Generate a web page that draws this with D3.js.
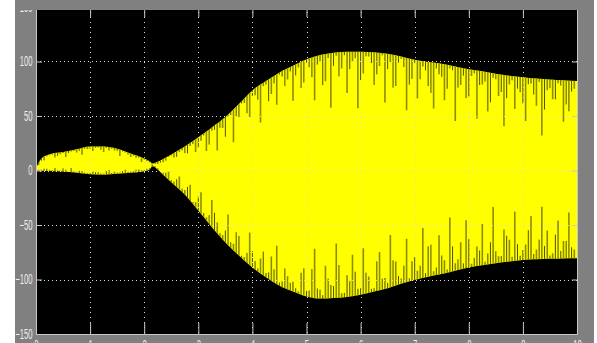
<!DOCTYPE html>
<html>
<head>
<meta charset="utf-8">
<script src="https://cdn.jsdelivr.net/npm/d3@7"></script>
<style>
  html, body { margin: 0; padding: 0; background: #ffffff; }
  svg { display: block; }
</style>
</head>
<body>
<svg id="chart" width="597" height="343"></svg>
<script>
// Axis ticks
const xTicks = [0, 1, 2, 3, 4, 5, 6, 7, 8, 9, 10];
const yTicks = [-150, -100, -50, 0, 50, 100, 150];

// Outer envelope of the oscillating trace (time in s, value)
const envT  = [0, 0.1, 0.25, 0.5, 0.75, 1, 1.25, 1.5, 1.75, 2, 2.1, 2.15, 2.25, 2.35, 2.5,
               2.75, 3, 3.25, 3.5, 3.75, 4, 4.25, 4.5, 4.75, 5, 5.25, 5.5, 5.75, 6, 6.25,
               6.5, 6.75, 7, 7.25, 7.5, 7.75, 8, 8.25, 8.5, 8.75, 9, 9.25, 9.5, 9.75, 10];
const envHi = [2, 11, 15, 17, 19.5, 22, 22, 20, 15.5, 11, 8.5, 6.5, 8, 10.5, 14.7,
               22, 30.6, 39.5, 49, 61, 73.5, 82, 90, 96, 102, 106, 108, 109, 109, 108.5,
               107, 104.5, 101.5, 99.5, 98, 95.5, 93, 91, 88.7, 87, 85.6, 84.5, 83.5, 82.7, 82];
const envLo = [0, -0.3, -0.5, -1, -2, -3.4, -3.8, -3, -2, -0.6, 1, 4, 1, -4, -10.7,
               -22, -36.8, -52, -66, -78, -89, -98, -105.7, -111, -115.5, -117.5, -117, -116, -114, -111,
               -108, -104, -100.5, -97.5, -95, -92, -89, -87, -85, -83.5, -82, -81.5, -81, -80.7, -80.5];

// Per-cycle maxima / minima of the trace, sampled every 0.1 s from t = 0.05 s
const cycleStart = 0.05, cycleStep = 0.1;
const peakHi = [5, 9.5, 14, 12, 14.8, 12.5, 17.5, 16.5, 14.5, 19.7,
                18, 21, 17, 18.3, 18.4, 13.3, 16.5, 12.5, 11.7, 7.9,
                8.5, 5.5, 6, 7.5, 12.3, 12, 17, 16, 22.4, 17,
                27.4, 18, 36.5, 18.3, 39, 49.4, 26, 49, 62, 49,
                69, 44, 79, 70.2, 60.4, 86.2, 83.6, 64, 94.4, 80.8,
                94.8, 64.4, 100, 81.8, 57.6, 105.2, 93.6, 71, 100, 57,
                88.9, 104.7, 78.5, 95.9, 62.3, 99.5, 77.5, 102.5, 55.3, 84.1,
                66.1, 95.3, 77.5, 56.9, 88.3, 64.5, 93.5, 45.5, 78.5, 66.5,
                86.6, 47.8, 79, 54.1, 85.2, 68.4, 40.7, 79, 56.4, 71.9,
                45.4, 79.9, 59.5, 32.1, 73.7, 65.3, 80, 44.7, 54.4, 75.1];
const peakLo = [0.8, 1.6, 0.5, 2.3, 0.1, 0.8, 2.4, -1, -0.6, -2.2,
                -0.6, -1.7, -2.8, 0.5, -1.2, -1.8, 0.6, -1, 0.6, 0.2,
                1.5, 5, 2, -2, -0.5, -10, -5.5, -18, -13, -29,
                -20, -43, -27, -47.6, -59.2, -40.4, -67.2, -60, -79.4, -56.8,
                -83, -80.8, -94, -79, -69, -101.8, -97, -102, -110.8, -89.6,
                -110, -71.8, -109.5, -87.3, -105.1, -66.9, -112.5, -96, -77.2, -108.4,
                -71.4, -97.2, -108, -74.8, -98.6, -59.2, -83.6, -99, -62.6, -83.2,
                -91.9, -52.7, -69.5, -92.5, -59.5, -82.4, -43.2, -85, -65.8, -45.6,
                -85.6, -69.8, -49, -76.2, -33.4, -78.7, -54.1, -63.5, -37.9, -78.3,
                -67.9, -41.7, -72.5, -33.3, -55.1, -76, -45.8, -64.7, -38.6, -72.5];

// Intermediate maxima / minima, sampled every 0.1 s from t = 0 s
const midStart = 0, midStep = 0.1;
const midHi = [1, 9, 13, 14.5, 13.4, 16, 16, 18, 18, 20,
               20, 21, 19, 20.7, 19.9, 18, 17.5, 14.5, 13.6, 11.8,
               10, 7.5, 6, 7.2, 9, 13.7, 12.5, 18.5, 15.7, 24.2,
               20.6, 32.2, 23.8, 37.4, 39.2, 31, 50.8, 49.6, 61.5, 52.5,
               68.5, 65, 77.4, 63.6, 79.8, 88, 77.4, 90.8, 87.2, 75.6,
               99, 85.6, 97.2, 78.4, 103.2, 96, 86.4, 105.8, 93, 103,
               83, 104.8, 98.6, 88.2, 105.6, 93, 76, 99, 94.9, 78.7,
               98.5, 83.7, 91.9, 71.2, 93.6, 86, 75, 92, 76, 87,
               68, 89.2, 78.4, 81.5, 62.6, 83.7, 72, 66.3, 82.7, 75.1,
               61.6, 79.1, 69.7, 81.3, 55.9, 75.5, 65.2, 77.9, 60.6, 72.3];
const midLo = [1, 0.7, 1.6, 0.4, 0.2, 2, -0.4, -0.8, -0.3, -1.9,
               -2.4, -1.6, -2.7, -0.6, -2.3, -2, -0.6, -1.2, -0.7, 0.9,
               0.4, 2, 4, -0.5, -2, -8.7, -8, -16.7, -15, -29,
               -23.8, -39, -41, -38.8, -57.4, -55, -65.8, -56.6, -78.2, -75.6,
               -74, -89.8, -74.4, -93.5, -90.6, -102.7, -89.8, -103, -108, -93.8,
               -110.5, -90.4, -108.2, -114.4, -99.2, -106, -86.8, -112.3, -101.6, -92.8,
               -108, -93.8, -108.6, -83.4, -99.2, -103, -82.4, -96.8, -87.3, -98.9,
               -79.5, -87.3, -94.1, -68, -89, -78, -90.8, -69.6, -81.4, -85.2,
               -63, -80.2, -73.4, -83.6, -65.8, -74, -78.4, -59.8, -79.2, -67.6,
               -73, -54.8, -76.6, -63.4, -69.2, -78, -58.9, -73.8, -64.6, -70.5];

const W = 597, H = 343;
const plotL = 36, plotR = 577, plotT = 7, plotB = 334;

const svg = d3.select("#chart");
const x = d3.scaleLinear().domain([0, 10]).range([plotL, plotR]);
const y = d3.scaleLinear().domain([-150, 150]).range([plotB, plotT]);

// Window frame
svg.append("rect").attr("width", W).attr("height", H).attr("fill", "#808080");
svg.append("rect").attr("width", 15).attr("height", H).attr("fill", "#ffffff");
svg.append("rect").attr("x", 594).attr("width", W - 594).attr("height", H).attr("fill", "#ffffff");

// Plot area
svg.append("rect")
  .attr("x", plotL).attr("y", plotT)
  .attr("width", plotR - plotL).attr("height", plotB - plotT)
  .attr("fill", "#000000");

const defs = svg.append("defs");
defs.append("clipPath").attr("id", "plotClip")
  .append("rect").attr("x", plotL).attr("y", plotT)
  .attr("width", plotR - plotL).attr("height", plotB - plotT);

const env = envT.map((t, i) => ({ t, hi: envHi[i], lo: envLo[i] }));
const band = d3.area()
  .x(d => x(d.t))
  .y0(d => y(d.lo))
  .y1(d => y(d.hi))
  .curve(d3.curveMonotoneX);

defs.append("clipPath").attr("id", "bandClip")
  .append("path").attr("d", band(env));

const plot = svg.append("g").attr("clip-path", "url(#plotClip)");

// Filled trace
plot.append("path")
  .attr("d", band(env))
  .attr("fill", "#ffff00");

// Shortfalls of individual cycles below the envelope
const notches = plot.append("g").attr("clip-path", "url(#bandClip)");

function drawNotches(cls, start, step, his, los, color, width) {
  const pts = his.map((h, i) => ({ t: start + step * i, hi: h, lo: los[i] }));
  notches.selectAll(`line.${cls}-up`).data(pts).join("line")
    .attr("class", `${cls}-up`)
    .attr("x1", d => x(d.t)).attr("x2", d => x(d.t))
    .attr("y1", y(150)).attr("y2", d => y(d.hi))
    .attr("stroke", color).attr("stroke-width", width);
  notches.selectAll(`line.${cls}-dn`).data(pts).join("line")
    .attr("class", `${cls}-dn`)
    .attr("x1", d => x(d.t)).attr("x2", d => x(d.t))
    .attr("y1", y(-150)).attr("y2", d => y(d.lo))
    .attr("stroke", color).attr("stroke-width", width);
}
drawNotches("cyc", cycleStart, cycleStep, peakHi, peakLo, "#8c8c00", 1.6);
drawNotches("mid", midStart, midStep, midHi, midLo, "#505000", 1);

// Dotted grid
const grid = svg.append("g");
grid.selectAll("line.gx").data(xTicks.slice(1, -1)).join("line")
  .attr("class", "gx")
  .attr("x1", d => Math.round(x(d)) + 0.5).attr("x2", d => Math.round(x(d)) + 0.5)
  .attr("y1", plotT).attr("y2", plotB)
  .attr("stroke", "#d8d8d8").attr("stroke-width", 1)
  .attr("stroke-dasharray", "1,4");
grid.selectAll("line.gy").data(yTicks.slice(1, -1)).join("line")
  .attr("class", "gy")
  .attr("x1", plotL).attr("x2", plotR)
  .attr("y1", d => Math.round(y(d)) + 0.5).attr("y2", d => Math.round(y(d)) + 0.5)
  .attr("stroke", "#d8d8d8").attr("stroke-width", 1)
  .attr("stroke-dasharray", "1,3");

// Axes
const axisColor = "#c8c8c8";
const labelColor = "#eeeeee";
const squeeze = 0.55;

function styleAxis(g) {
  g.attr("font-family", "'Liberation Sans', Arial, sans-serif").attr("font-size", 14);
  g.selectAll("path.domain").attr("stroke", axisColor);
  g.selectAll(".tick line").attr("stroke", axisColor);
  g.selectAll(".tick text").attr("fill", labelColor);
}

const yAxis = svg.append("g")
  .attr("transform", `translate(${plotL},0)`)
  .call(d3.axisLeft(y).tickValues(yTicks).tickSize(-6).tickSizeOuter(0).tickPadding(3)
        .tickFormat(d3.format("d")));
styleAxis(yAxis);
yAxis.selectAll(".tick text")
  .attr("x", -3.5 / squeeze)
  .attr("transform", `scale(${squeeze},1)`);

const yAxisR = svg.append("g")
  .attr("transform", `translate(${plotR},0)`)
  .call(d3.axisRight(y).tickValues(yTicks).tickSize(-5).tickSizeOuter(0).tickFormat(""));
styleAxis(yAxisR);

const xAxisT = svg.append("g")
  .attr("transform", `translate(0,${plotT})`)
  .call(d3.axisTop(x).tickValues(xTicks).tickSize(-10).tickSizeOuter(0).tickFormat(""));
styleAxis(xAxisT);
xAxisT.select("path.domain").remove();

const xAxis = svg.append("g")
  .attr("transform", `translate(0,${plotB})`)
  .call(d3.axisBottom(x).tickValues(xTicks).tickSize(-11).tickSizeOuter(0).tickPadding(6)
        .tickFormat(d3.format("d")));
styleAxis(xAxis);
xAxis.selectAll(".tick text").attr("transform", `scale(${squeeze},1)`);

// Window title strip along the top edge
svg.append("rect").attr("x", 15).attr("y", 0).attr("width", 594 - 15).attr("height", 10)
  .attr("fill", "#808080");
</script>
</body>
</html>
